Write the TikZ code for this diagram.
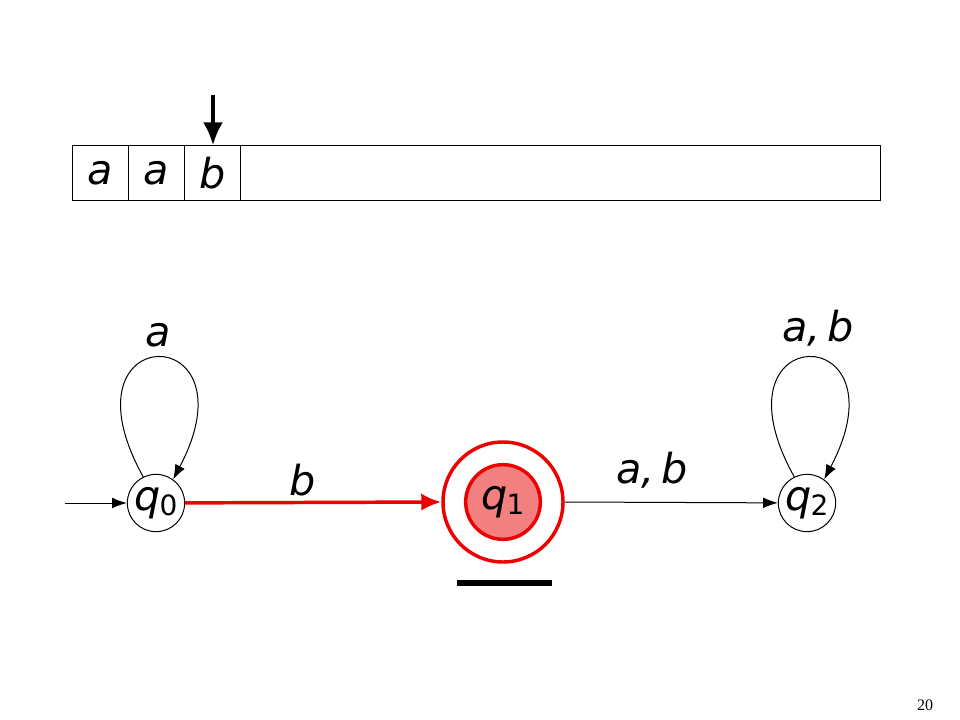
\documentclass[tikz,border=0pt]{standalone}
\usepackage{fontspec}
\setmainfont{Liberation Serif}
\newfontfamily\handfont{DejaVu Sans}
\usetikzlibrary{arrows.meta}
\definecolor{accept}{RGB}{238,0,0}
\definecolor{acceptfill}{RGB}{242,128,128}
\newcommand{\sym}[1]{{\handfont\itshape\fontsize{31}{34}\selectfont #1}}
\newcommand{\qname}[1]{{\handfont\itshape\fontsize{31}{34}\selectfont q\kern-1pt\raisebox{-4pt}{\upshape\fontsize{21}{24}\selectfont #1}}}
\begin{document}
\begin{tikzpicture}[x=0.75pt,y=-0.75pt,line width=0.75pt,
  state/.style={draw,circle,minimum size=43pt,inner sep=0pt},
  tip/.style={-{Latex[length=11pt,width=8pt]}},
  cell/.style={draw,minimum width=42pt,minimum height=41.25pt,inner sep=0pt,anchor=north west}]
\useasboundingbox (0,0) rectangle (960,720);

% tape
\node[cell] (c1) at (72,145) {\sym{a}};
\node[cell] (c2) at (128,145) {\sym{a}};
\node[cell] (c3) at (184,145) {\sym{b}};
\node[cell,minimum width=480pt] (rest) at (240,145) {};
\coordinate (head) at (213,95);
\draw[line width=2.4pt,-{Latex[length=17pt,width=15pt]}] (head) -- (c3.north -| head);

% states
\node[state] (q0) at (156,503) {\qname{0}};
\node[circle,draw=accept,line width=2.6pt,fill=acceptfill,minimum size=56pt,inner sep=0pt] (q1) at (503,502) {\qname{1}};
\node[circle,draw=accept,line width=2.6pt,minimum size=90pt,inner sep=0pt] (q1out) at (503,502) {};
\node[state] (q2) at (807,503) {\qname{2}};
\coordinate (start) at (65,503);

% transitions
\draw[tip] (start) -- (q0);
\draw[draw=accept,line width=2.6pt,-{Latex[length=15pt,width=13pt]}] (q0) -- (q1out.west);
\draw[tip] (q1out.east) -- (q2);
\draw[tip] (q0.116) .. controls (55,318) and (258,318) .. (q0.54);
\draw[tip] (q2.116) .. controls (706,318) and (909,318) .. (q2.54);

% labels
\node (lb) at (303,480) {\sym{b}};
\node (lab1) at (652,470) {\sym{a,\,b}};
\node (la) at (158,335) {\sym{a}};
\node (lab2) at (818,328) {\sym{a,\,b}};

% marker under q1
\coordinate (barl) at (457,583);
\coordinate (barr) at (552,583);
\draw[line width=4.5pt] (barl) -- (barr);

\node (page) at (925,705) {\fontsize{12}{14}\selectfont 20};
\end{tikzpicture}
\end{document}
